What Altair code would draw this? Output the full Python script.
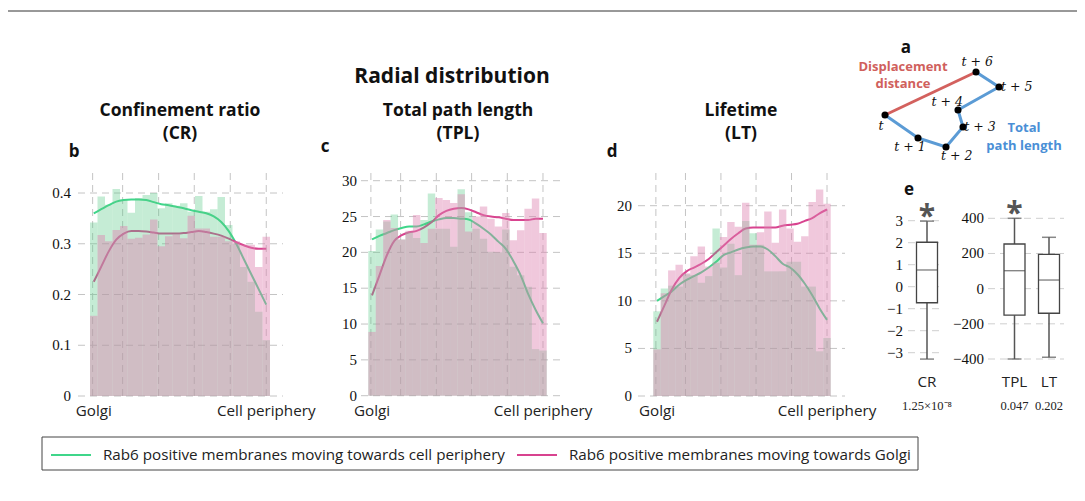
import altair as alt
import pandas as pd

# ---------------- data ----------------
S_G = "Rab6 positive membranes moving towards cell periphery"
S_P = "Rab6 positive membranes moving towards Golgi"

b_green = [0.342, 0.393, 0.377, 0.408, 0.387, 0.361, 0.39, 0.396, 0.40, 0.37, 0.38, 0.375,
           0.38, 0.363, 0.394, 0.363, 0.368, 0.392, 0.337, 0.30, 0.254, 0.225, 0.166, 0.11]
b_pink = [0.158, 0.317, 0.305, 0.327, 0.335, 0.31, 0.312, 0.318, 0.348, 0.295, 0.315, 0.318,
          0.311, 0.355, 0.33, 0.33, 0.314, 0.314, 0.305, 0.305, 0.298, 0.298, 0.254, 0.314]
b_gcurve = [0.36, 0.368, 0.376, 0.383, 0.386, 0.387, 0.387, 0.386, 0.382, 0.378, 0.376, 0.373,
            0.37, 0.366, 0.363, 0.36, 0.354, 0.343, 0.325, 0.30, 0.27, 0.24, 0.21, 0.18]
b_pcurve = [0.225, 0.255, 0.285, 0.308, 0.32, 0.325, 0.325, 0.324, 0.322, 0.32, 0.32, 0.32,
            0.321, 0.323, 0.325, 0.323, 0.32, 0.316, 0.31, 0.303, 0.297, 0.292, 0.29, 0.29]

c_green = [20.2, 23.2, 24.3, 25.3, 21.8, 22.8, 22.0, 24.5, 28.2, 23.3, 23.3, 20.8,
           28.8, 25.6, 23.3, 21.9, 20.1, 20.0, 23.2, 18.0, 16.8, 15.2, 6.5, 6.3]
c_pink = [8.9, 18.1, 24.5, 23.4, 21.8, 23.0, 25.2, 21.3, 23.3, 27.6, 27.3, 26.9,
          28.1, 22.9, 25.0, 26.4, 24.7, 23.6, 25.5, 21.7, 23.1, 26.1, 27.5, 22.7]
c_gcurve = [21.8, 22.3, 22.7, 23.1, 23.4, 23.6, 23.6, 23.9, 24.3, 24.6, 24.8, 24.8,
            24.7, 24.6, 24.0, 23.3, 22.5, 21.5, 20.5, 18.8, 16.8, 14.2, 12.0, 10.1]
c_pcurve = [14.0, 16.8, 19.6, 21.6, 22.4, 22.8, 23.0, 23.5, 24.2, 25.2, 25.8, 26.1,
            26.2, 26.0, 25.6, 25.2, 25.0, 24.9, 24.7, 24.5, 24.5, 24.5, 24.7, 24.7]

d_green = [8.9, 11.3, 11.6, 11.5, 12.8, 12.7, 11.9, 12.6, 17.6, 13.5, 16.0, 12.7,
           18.4, 17.1, 15.9, 13.1, 13.1, 13.1, 14.1, 14.1, 11.5, 11.5, 4.7, 6.1]
d_pink = [4.9, 10.8, 13.2, 13.8, 12.9, 14.7, 15.7, 13.6, 14.0, 16.7, 18.3, 17.8,
          20.3, 15.9, 17.2, 19.4, 16.1, 19.6, 17.6, 16.2, 16.8, 20.4, 21.7, 20.2]
d_gcurve = [10.0, 10.5, 11.0, 11.7, 12.2, 12.6, 13.0, 13.5, 14.1, 14.8, 15.1, 15.4,
            15.6, 15.7, 15.7, 15.4, 14.7, 13.9, 13.5, 12.8, 11.8, 10.6, 9.2, 8.0]
d_pcurve = [7.8, 9.5, 11.2, 12.4, 13.1, 13.5, 13.9, 14.4, 15.1, 15.8, 16.5, 17.1,
            17.6, 17.7, 17.7, 17.7, 17.7, 17.9, 18.0, 18.1, 18.4, 18.7, 19.2, 19.6]

b_ticks = [0, 0.1, 0.2, 0.3, 0.4]
c_ticks = [0, 5, 10, 15, 20, 25, 30]
d_ticks = [0, 5, 10, 15, 20]
vgrid_bins = [-0.15, 3.85, 8.65, 13.4, 18.2, 23.0]
x_labels = ["Golgi", "Cell periphery"]

# box plots (panel e)
cr_cat = ["CR"]
cr_lo, cr_q1, cr_med, cr_q3, cr_hi = [-3.29], [-0.73], [0.76], [2.02], [2.98]
cr_sig, cr_p = ["*"], ["1.25×10⁻⁸"]
cr_ticks = [-3, -2, -1, 0, 1, 2, 3]
tl_cat = ["TPL", "LT"]
tl_lo, tl_q1, tl_med, tl_q3, tl_hi = [-400, -390], [-151, -140], [102, 49], [254, 195], [400, 292]
tl_sig, tl_p = ["*", ""], ["0.047", "0.202"]
tl_ticks = [-400, -200, 0, 200, 400]

# schematic (panel a), in the schematic's own units
pt_names = ["t", "t + 1", "t + 2", "t + 3", "t + 4", "t + 5", "t + 6"]
pt_x = [25, 58, 86, 103, 98, 139, 116]
pt_y = [60, 37, 28, 48, 65, 88, 103]
pt_lx = [21, 50, 96.7, 120, 87.3, 156.7, 117.3]
pt_ly = [49, 27.7, 19, 47.7, 73.3, 88.3, 112.7]

# ---------------- styles ----------------
GREEN_LINE = "#3fd68a"
PINK_LINE = "#d8438f"
GREEN_BAR = "#59c987"
PINK_BAR = "#dd83b0"
GRID = "#c4c4c4"
SANS = "Open Sans"
SERIF = "Liberation Serif"
O = 8  # page margin -> plot coordinates

legend = alt.Legend(title=None, orient="none", legendX=50 - O, legendY=433.5 - O,
                    direction="horizontal", columns=2, symbolType="stroke",
                    symbolSize=1600, symbolStrokeWidth=2, labelFont=SANS,
                    labelFontSize=15.2, labelColor="#222", labelLimit=800,
                    padding=0, columnPadding=8, labelOffset=11)
color = alt.Color("series:N", scale=alt.Scale(domain=[S_G, S_P], range=[GREEN_LINE, PINK_LINE]),
                  legend=legend)


def hist_panel(green, pink, gcurve, pcurve, bar_px, y_dom, y_px, ticks, hgrid_px, lab_right):
    n = len(green)
    bars = pd.DataFrame({"bin": list(range(n)), "green": green, "pink": pink})
    curves = pd.DataFrame({"bin": list(range(n)) * 2, "v": gcurve + pcurve,
                           "series": [S_G] * n + [S_P] * n})
    xs = alt.Scale(domain=[-0.5, n - 0.5], range=[p - O for p in bar_px], nice=False, zero=False)
    ys = alt.Scale(domain=y_dom, range=[p - O for p in y_px], nice=False, zero=False)
    tdf = pd.DataFrame({"v": ticks})
    hgrid = alt.Chart(tdf).mark_rule(color=GRID, strokeDash=[7, 5], strokeWidth=1).encode(
        x=alt.value(hgrid_px[0] - O), x2=alt.value(hgrid_px[1] - O),
        y=alt.Y("v:Q", scale=ys, axis=None))
    vgrid = alt.Chart(pd.DataFrame({"g": vgrid_bins})).mark_rule(
        color=GRID, strokeDash=[7, 5], strokeWidth=1).encode(
        x=alt.X("g:Q", scale=xs, axis=None), y=alt.value(173 - O), y2=alt.value(398 - O))
    ylab = alt.Chart(tdf).mark_text(align="right", baseline="middle", font=SERIF,
                                    fontSize=15, color="#111").encode(
        x=alt.value(lab_right - O), y=alt.Y("v:Q", scale=ys, axis=None),
        text=alt.Text("v:Q", format="~g"))
    xlab = alt.Chart(pd.DataFrame({"bin": [0, n - 1], "lab": x_labels})).mark_text(
        baseline="middle", font=SANS, fontSize=15.2, color="#222").encode(
        x=alt.X("bin:Q", scale=xs, axis=None), y=alt.value(411 - O), text="lab:N")
    lines = alt.Chart(curves).mark_line(strokeWidth=2, interpolate="monotone").encode(
        x=alt.X("bin:Q", scale=xs, axis=None), y=alt.Y("v:Q", scale=ys, axis=None),
        color=color)
    base = alt.Chart(bars).transform_calculate(x0="datum.bin - 0.5", x1="datum.bin + 0.5")
    gbars = base.mark_bar(color=GREEN_BAR, opacity=0.35).encode(
        x=alt.X("x0:Q", scale=xs, axis=None), x2="x1:Q",
        y=alt.Y("green:Q", scale=ys, axis=None), y2=alt.datum(0))
    pbars = base.mark_bar(color=PINK_BAR, opacity=0.444).encode(
        x=alt.X("x0:Q", scale=xs, axis=None), x2="x1:Q",
        y=alt.Y("pink:Q", scale=ys, axis=None), y2=alt.datum(0))
    return alt.layer(hgrid, vgrid, lines, gbars, pbars, ylab, xlab)


pb = hist_panel(b_green, b_pink, b_gcurve, b_pcurve, [90, 270], [0, 0.4], [396, 193],
                b_ticks, [78, 283], 71)
pc = hist_panel(c_green, c_pink, c_gcurve, c_pcurve, [368.3, 546.7], [0, 30], [395.7, 180.7],
                c_ticks, [361, 560], 357)
pd_ = hist_panel(d_green, d_pink, d_gcurve, d_pcurve, [653.3, 830.7], [0, 20], [396, 205.7],
                 d_ticks, [638, 845], 632)


def box_panel(cats, lo, q1, med, q3, hi, sig, pv, x_px, y_dom, y_px, ticks, grid_px, lab_right):
    df = pd.DataFrame({"cat": cats, "lo": lo, "q1": q1, "med": med, "q3": q3, "hi": hi,
                       "sig": sig, "p": pv})
    xs = alt.Scale(domain=cats, range=[p - O for p in x_px], paddingInner=0, paddingOuter=0)
    ys = alt.Scale(domain=y_dom, range=[p - O for p in y_px], nice=False, zero=False)
    X = alt.X("cat:N", scale=xs, axis=None)
    tdf = pd.DataFrame({"v": ticks})
    grid = alt.Chart(tdf).mark_rule(color="#cfcfcf", strokeDash=[7, 5], strokeWidth=1).encode(
        x=alt.value(grid_px[0] - O), x2=alt.value(grid_px[1] - O),
        y=alt.Y("v:Q", scale=ys, axis=None))
    ylab = alt.Chart(tdf).mark_text(align="right", baseline="middle", font=SERIF,
                                    fontSize=15, color="#111").encode(
        x=alt.value(lab_right - O), y=alt.Y("v:Q", scale=ys, axis=None),
        text=alt.Text("v:Q", format="~g"))
    c = alt.Chart(df)
    whisk = c.mark_rule(color="#555", strokeWidth=1.5).encode(
        x=X, y=alt.Y("lo:Q", scale=ys, axis=None), y2="hi:Q")
    box = c.mark_bar(fill="white", stroke="#444", strokeWidth=1.3, width=21).encode(
        x=X, y=alt.Y("q1:Q", scale=ys, axis=None), y2="q3:Q")
    medt = c.mark_tick(color="#444", size=21, thickness=1.3).encode(
        x=X, y=alt.Y("med:Q", scale=ys, axis=None))
    caplo = c.mark_tick(color="#555", size=14, thickness=1.5).encode(
        x=X, y=alt.Y("lo:Q", scale=ys, axis=None))
    caphi = c.mark_tick(color="#555", size=14, thickness=1.5).encode(
        x=X, y=alt.Y("hi:Q", scale=ys, axis=None))
    star = c.mark_text(font=SANS, fontSize=30, fontWeight="bold", color="#555",
                       baseline="alphabetic", dy=5).encode(
        x=X, y=alt.Y("hi:Q", scale=ys, axis=None), text="sig:N")
    catl = c.mark_text(font=SANS, fontSize=15.2, color="#222", baseline="middle").encode(
        x=X, y=alt.value(382 - O), text="cat:N")
    pl = c.mark_text(font=SERIF, fontSize=12.5, color="#222", baseline="middle").encode(
        x=X, y=alt.value(406 - O), text="p:N")
    return alt.layer(grid, ylab, whisk, box, medt, caplo, caphi, star, catl, pl)


pe1 = box_panel(cr_cat, cr_lo, cr_q1, cr_med, cr_q3, cr_hi, cr_sig, cr_p, [908, 946],
                [-3, 3], [352.7, 220.7], cr_ticks, [908, 941], 903)
pe2 = box_panel(tl_cat, tl_lo, tl_q1, tl_med, tl_q3, tl_hi, tl_sig, tl_p, [997.25, 1066.25],
                [-400, 400], [359, 218.3], tl_ticks, [988, 1064], 984)

# schematic
sdf = pd.DataFrame({"i": list(range(7)), "name": pt_names, "x": pt_x, "y": pt_y,
                    "lx": pt_lx, "ly": pt_ly})
sxs = alt.Scale(domain=[0, 220], range=[860 - O, 1080 - O], nice=False, zero=False)
sys_ = alt.Scale(domain=[0, 140], range=[175 - O, 35 - O], nice=False, zero=False)
sc = alt.Chart(sdf)
path = sc.mark_line(color="#5b9bd5", strokeWidth=3).encode(
    x=alt.X("x:Q", scale=sxs, axis=None), y=alt.Y("y:Q", scale=sys_, axis=None), order="i:Q")
disp = sc.transform_filter("datum.i == 0 || datum.i == 6").mark_line(
    color="#d3615e", strokeWidth=3).encode(
    x=alt.X("x:Q", scale=sxs, axis=None), y=alt.Y("y:Q", scale=sys_, axis=None), order="i:Q")
dots = sc.mark_circle(color="black", size=50, opacity=1).encode(
    x=alt.X("x:Q", scale=sxs, axis=None), y=alt.Y("y:Q", scale=sys_, axis=None))
dlab = sc.mark_text(font="DejaVu Serif", fontStyle="italic", fontSize=12.5, color="#111",
                    baseline="middle").encode(
    x=alt.X("lx:Q", scale=sxs, axis=None), y=alt.Y("ly:Q", scale=sys_, axis=None), text="name:N")
schematic = alt.layer(disp, path, dots, dlab)

# static annotations
one = alt.Data(values=[{}])


def txt(s, x, y, size, color="#111", weight="bold", font=SANS, align="center"):
    return alt.Chart(one).mark_text(text=s, font=font, fontSize=size, fontWeight=weight,
                                    color=color, align=align, baseline="middle").encode(
        x=alt.value(x - O), y=alt.value(y - O))


legend_box = alt.Chart(one).mark_rect(fill="white", stroke="#444", strokeWidth=1).encode(
    x=alt.value(42 - O), x2=alt.value(918 - O), y=alt.value(437 - O), y2=alt.value(470 - O))
top_rule = alt.Chart(one).mark_rule(color="#333", strokeWidth=1).encode(
    x=alt.value(0), x2=alt.value(1069), y=alt.value(11 - O))

texts = [
    txt("Radial distribution", 452, 77, 21),
    txt("Confinement ratio", 180, 111, 17.5), txt("(CR)", 180, 134, 17.5),
    txt("Total path length", 458, 111, 17.5), txt("(TPL)", 458, 134, 17.5),
    txt("Lifetime", 741, 111, 17.5), txt("(LT)", 741, 134, 17.5),
    txt("b", 74, 152, 17), txt("c", 325, 147, 17), txt("d", 612, 152, 17),
    txt("a", 906, 48, 17), txt("e", 909, 190, 17),
    txt("Displacement", 903, 67, 13, color="#d0605c"),
    txt("distance", 903, 84, 13, color="#d0605c"),
    txt("Total", 1024, 128, 13, color="#4a8fd6"),
    txt("path length", 1024, 146, 13, color="#4a8fd6"),
]

chart = alt.layer(top_rule, legend_box, pb, pc, pd_, pe1, pe2, schematic, *texts).resolve_scale(
    x="independent", y="independent"
).properties(
    width=1069, height=485, autosize=alt.AutoSizeParams(type="none"), padding=0
).configure_view(stroke=None)

chart.save("out.html", embed_options={"renderer": "svg", "actions": False})
